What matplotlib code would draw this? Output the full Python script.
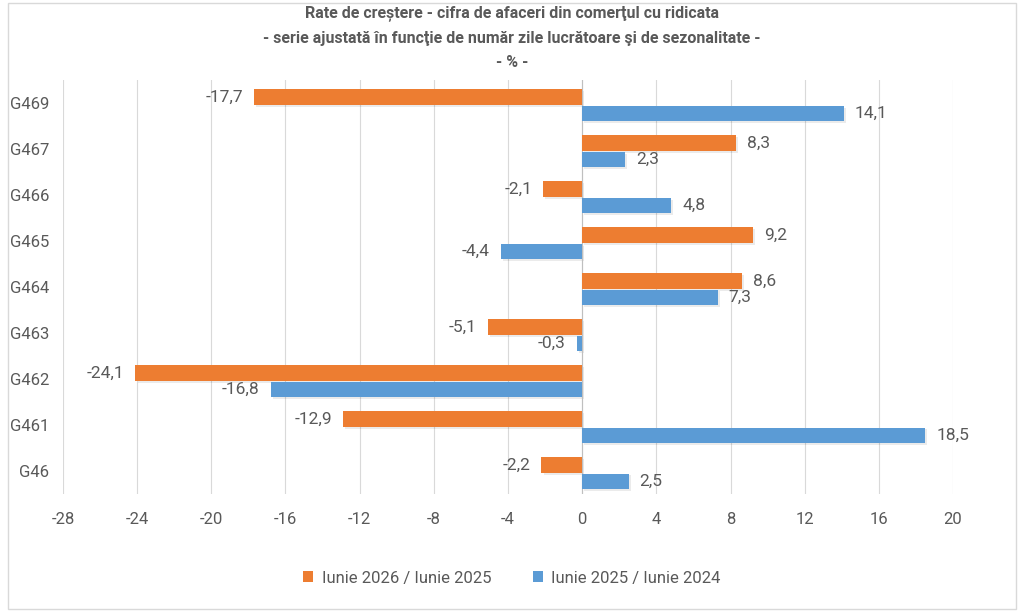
import numpy as np
import matplotlib.pyplot as plt
from matplotlib import font_manager as fm
from matplotlib.patches import Rectangle

names = {f.name for f in fm.fontManager.ttflist}
base = "Liberation Sans Narrow" if "Liberation Sans Narrow" in names else "Roboto"
plt.rcParams['font.family'] = [base, 'DejaVu Sans']

categories = ["G46", "G461", "G462", "G463", "G464", "G465", "G466", "G467", "G469"]
rate_2026 = [-2.2, -12.9, -24.1, -5.1, 8.6, 9.2, -2.1, 8.3, -17.7]
rate_2025 = [2.5, 18.5, -16.8, -0.3, 7.3, -4.4, 4.8, 2.3, 14.1]
label_2026 = "Iunie 2026 / Iunie 2025"
label_2025 = "Iunie 2025 / Iunie 2024"
xticks = list(range(-28, 21, 4))

orange = "#ED7D31"
blue = "#5B9BD5"
txt = "#595959"

fig = plt.figure(figsize=(10.24, 6.15), dpi=100)
ax = fig.add_axes([0.0615, 0.197, 0.8692, 0.673])

y = np.arange(len(categories)) - 0.05
h = 0.34
b1 = ax.barh(y + h / 2 + 0.01, rate_2026, height=h, color=orange, label=label_2026, zorder=3)
b2 = ax.barh(y - h / 2 - 0.01, rate_2025, height=h, color=blue, label=label_2025, zorder=3)
# faint drop shadows like the original
ax.barh(y + h / 2 + 0.01 - 0.04, rate_2026, height=h, left=0.12, color="#000000", alpha=0.08, zorder=2)
ax.barh(y - h / 2 - 0.01 - 0.04, rate_2025, height=h, left=0.12, color="#000000", alpha=0.08, zorder=2)

for bars, vals in ((b1, rate_2026), (b2, rate_2025)):
    for bar, v in zip(bars, vals):
        yc = bar.get_y() + bar.get_height() / 2
        s = f"{v:.1f}".replace(".", ",")
        if v < 0:
            ax.text(v - 0.6, yc, s, ha="right", va="center", fontsize=12.5, color=txt)
        else:
            ax.text(v + 0.6, yc, s, ha="left", va="center", fontsize=12.5, color=txt)

ax.set_xlim(-28, 20)
ax.set_ylim(-0.5, len(categories) - 0.5)
ax.set_xticks(xticks)
ax.set_xticklabels([str(t) for t in xticks])
ax.set_yticks(np.arange(len(categories)))
ax.set_yticklabels(categories)
ax.tick_params(axis="both", length=0, labelsize=12, colors=txt)
ax.tick_params(axis="x", pad=13)
ax.tick_params(axis="y", pad=10)
ax.grid(axis="x", color="#D9D9D9", linewidth=0.8, zorder=0)
ax.axvline(0, color="#BFBFBF", linewidth=0.8, zorder=2)
for sp in ax.spines.values():
    sp.set_visible(False)

fig.text(0.5, 0.979, "Rate de creștere - cifra de afaceri din comerţul cu ridicata",
         ha="center", va="center", fontsize=11.5, fontweight="bold", color=txt)
fig.text(0.5, 0.938, "- serie ajustată în funcţie de număr zile lucrătoare şi de sezonalitate -",
         ha="center", va="center", fontsize=11.5, fontweight="bold", color=txt)
fig.text(0.5, 0.898, "- % -", ha="center", va="center", fontsize=11.5, fontweight="bold", color=txt)

leg = fig.legend(handles=[b1, b2], loc="center", bbox_to_anchor=(0.5, 0.06), ncol=2,
                 frameon=False, fontsize=12, handlelength=0.6, handleheight=0.6,
                 columnspacing=2.5, handletextpad=0.5)
for t in leg.get_texts():
    t.set_color(txt)

fig.patches.append(Rectangle((0.008, 0.01), 0.984, 0.985, transform=fig.transFigure,
                             fill=False, edgecolor="#D9D9D9", linewidth=1))

fig.savefig("out.png", dpi=100)
